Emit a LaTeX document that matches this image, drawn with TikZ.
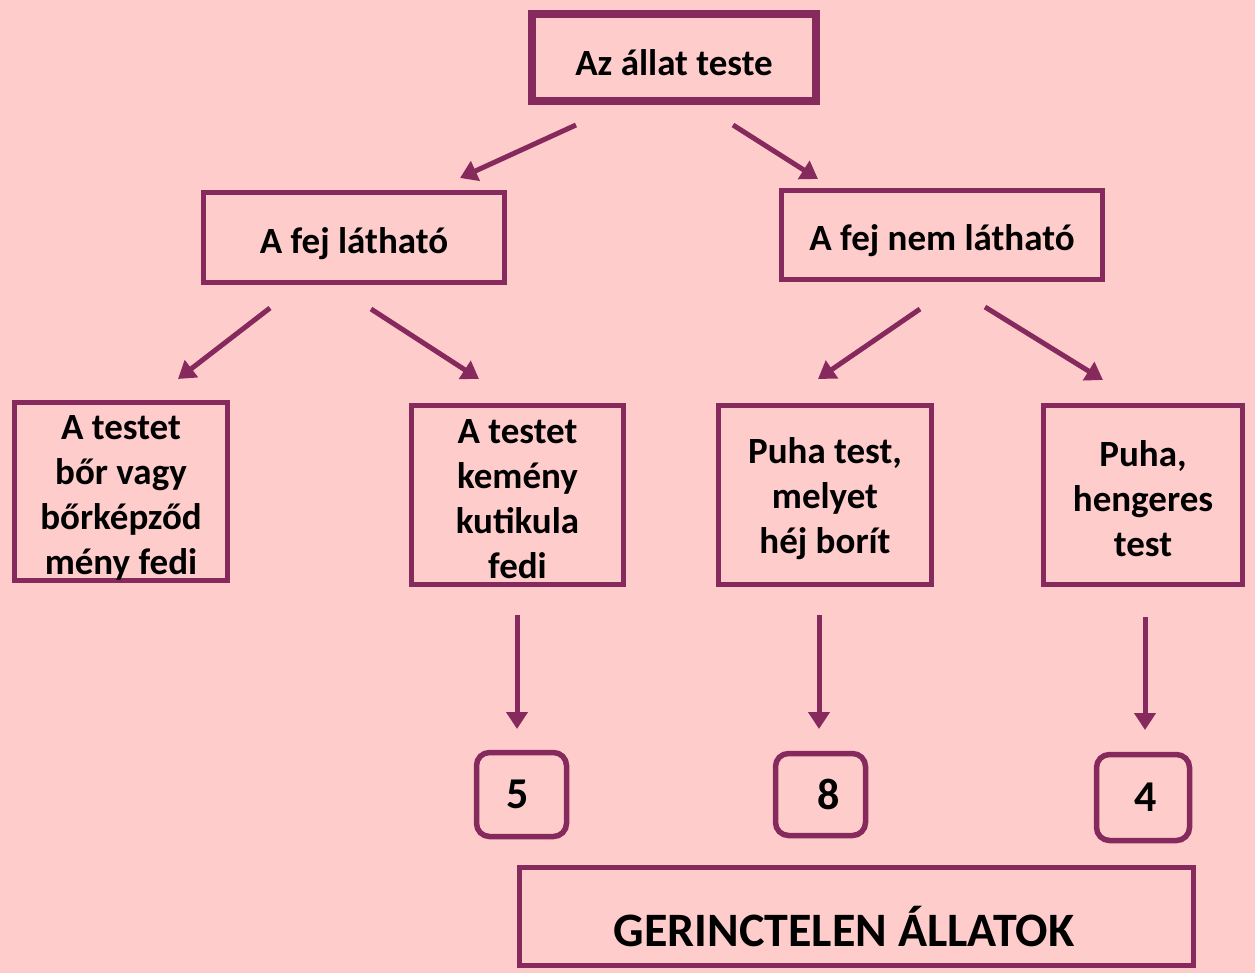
\documentclass[tikz,border=0pt]{standalone}
\usepackage{fontspec}
\setmainfont{Carlito}
\usetikzlibrary{arrows.meta}
\definecolor{bgpink}{RGB}{255,204,204}
\definecolor{plum}{RGB}{134,42,94}
\newcommand\topstrut[1]{\rule{0pt}{#1pt}}
\tikzset{
  box/.style={draw=plum, line width=5.5pt, inner sep=0pt, align=center,
    font=\fontsize{37}{45}\selectfont\bfseries, text=black},
  numbox/.style={box, rounded corners=13pt, font=\fontsize{44}{46}\selectfont\bfseries},
  arr/.style={draw=plum, line width=5pt, -{Triangle[length=17pt,width=21pt]}},
  lbl/.style={inner sep=0pt, text=black}
}
\begin{document}
\begin{tikzpicture}[x=1pt,y=-1pt]
\fill[bgpink] (0,0) rectangle (1255,973);
\useasboundingbox (0,0) rectangle (1255,973);

\node[box, line width=8pt, minimum width=284pt, minimum height=87pt] (top) at (674,57.5) {\topstrut{37}Az állat teste};
\node[box, minimum width=301pt, minimum height=90pt] (fejL) at (354,237.5) {\topstrut{39}A fej látható};
\node[box, minimum width=321pt, minimum height=89pt] (fejR) at (942,235) {\topstrut{37}A fej nem látható};

\node[box, minimum width=213pt, minimum height=178pt] (b1) at (121,491.5) {\topstrut{37}A testet\\bőr vagy\\bőrképződ\\mény fedi};
\node[box, minimum width=212pt, minimum height=179pt] (b2) at (517.5,495) {\topstrut{32}A testet\\kemény\\kutikula\\fedi};
\node[box, minimum width=213pt, minimum height=179pt] (b3) at (825,495) {\topstrut{33}Puha test,\\melyet\\héj borít};
\node[box, minimum width=199pt, minimum height=179pt] (b4) at (1143,495) {\topstrut{33}Puha,\\hengeres\\test};

\node[numbox, minimum width=90pt, minimum height=84pt] (n5) at (521.5,794.5) {\hspace*{-8pt}5};
\node[numbox, minimum width=90pt, minimum height=82pt] (n8) at (820.5,794.5) {\hspace*{17pt}8};
\node[numbox, minimum width=93pt, minimum height=86pt] (n4) at (1143,797.5) {\hspace*{6pt}4};

\node[box, minimum width=674pt, minimum height=98pt] (ger) at (856.5,916.5) {};
\node[lbl, font=\fontsize{48}{50}\selectfont\bfseries] (gertext) at (844,927) {GERINCTELEN ÁLLATOK};

% arrow end points
\coordinate (a1s) at (576,125); \coordinate (a1e) at (460,178);
\coordinate (a2s) at (733,125); \coordinate (a2e) at (818,179);
\coordinate (a3s) at (270,308); \coordinate (a3e) at (178,379);
\coordinate (a4s) at (371,309); \coordinate (a4e) at (479,379);
\coordinate (a5s) at (920,309); \coordinate (a5e) at (818,379);
\coordinate (a6s) at (985,307); \coordinate (a6e) at (1103,380);
\coordinate (a7s) at (517,615); \coordinate (a7e) at (517,729);
\coordinate (a8s) at (819,615); \coordinate (a8e) at (819,729);
\coordinate (a9s) at (1145,617); \coordinate (a9e) at (1145,730);

\draw[arr] (a1s) -- (a1e);
\draw[arr] (a2s) -- (a2e);
\draw[arr] (a3s) -- (a3e);
\draw[arr] (a4s) -- (a4e);
\draw[arr] (a5s) -- (a5e);
\draw[arr] (a6s) -- (a6e);
\draw[arr] (a7s) -- (a7e);
\draw[arr] (a8s) -- (a8e);
\draw[arr] (a9s) -- (a9e);
\end{tikzpicture}
\end{document}
